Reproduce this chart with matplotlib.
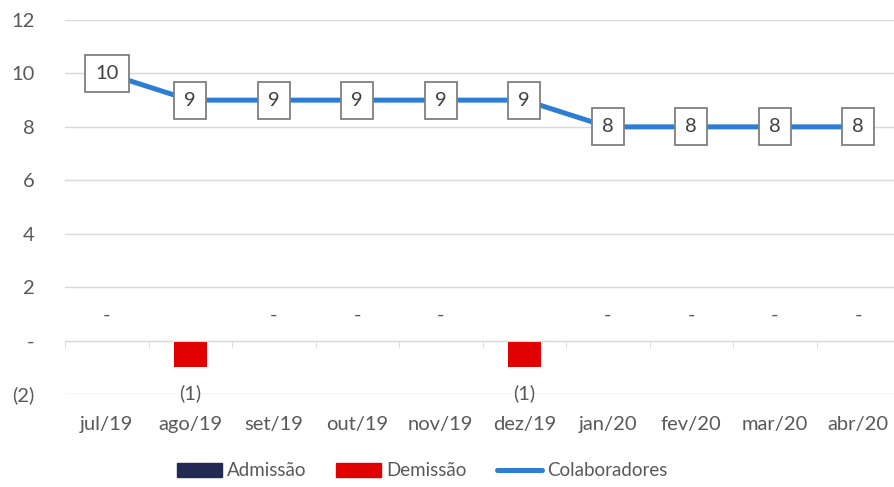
import matplotlib
matplotlib.use("Agg")
from matplotlib import pyplot as plt
from matplotlib.patches import Patch
from matplotlib.lines import Line2D
import numpy as np

# data
meses = ["jul/19", "ago/19", "set/19", "out/19", "nov/19", "dez/19",
         "jan/20", "fev/20", "mar/20", "abr/20"]
admissao = [0, 0, 0, 0, 0, 0, 0, 0, 0, 0]
demissao = [0, -1, 0, 0, 0, -1, 0, 0, 0, 0]
colaboradores = [10, 9, 9, 9, 9, 9, 8, 8, 8, 8]

c_adm = "#222A54"
c_dem = "#E00000"
c_col = "#2E7DD4"
c_txt = "#595959"
fs = 14.5

plt.rcParams['font.family'] = ['Lato', 'DejaVu Sans']

fig = plt.figure(figsize=(8.95, 4.87), dpi=100)
ax = fig.add_axes([65 / 895, 1 - 394 / 487, 835 / 895, 374 / 487])

x = np.arange(len(meses))
ax.bar(x, admissao, width=0.4, color=c_adm, zorder=2)
ax.bar(x, demissao, width=0.4, color=c_dem, zorder=2)
ax.plot(x, colaboradores, color=c_col, lw=3.6, zorder=3, solid_capstyle='round')

# labels for the line
for xi, v in zip(x, colaboradores):
    ax.text(xi, v, str(v), ha='center', va='center', fontsize=fs, color='#404040',
            zorder=4,
            bbox=dict(boxstyle='square,pad=0.5', fc='white', ec='#7F7F7F', lw=1.3))

# labels for Demissão
for xi, v in zip(x, demissao):
    if v == 0:
        ax.annotate("-", (xi, v), xytext=(0, 18), textcoords='offset points',
                    ha='center', va='center', fontsize=fs, color=c_txt)
    else:
        ax.annotate("(%d)" % abs(v), (xi, v), xytext=(0, -19), textcoords='offset points',
                    ha='center', va='center', fontsize=fs, color=c_txt)

ax.set_xlim(-0.5, len(meses) - 0.5)
ax.set_ylim(-2, 12)


def fmt(v, pos):
    if v == 0:
        return "-"
    if v < 0:
        return "(%d)" % abs(v)
    return "%d" % v


ax.set_yticks(np.arange(-2, 13, 2))
ax.yaxis.set_major_formatter(matplotlib.ticker.FuncFormatter(fmt))
ax.grid(axis='y', color='#D9D9D9', lw=1, zorder=0)
ax.tick_params(axis='y', length=0, labelsize=fs, labelcolor=c_txt, pad=22)
for s in ['top', 'right', 'left']:
    ax.spines[s].set_visible(False)

# zero axis line with category separators
ax.spines['bottom'].set_position(('data', 0))
ax.spines['bottom'].set_color('#D9D9D9')
ax.set_xticks(x)
ax.set_xticks(np.arange(-0.5, len(meses), 1), minor=True)
ax.tick_params(axis='x', which='major', length=0, labelbottom=False)
ax.tick_params(axis='x', which='minor', length=5, color='#D9D9D9', direction='out')

sec = ax.secondary_xaxis('bottom')
sec.set_xticks(x)
sec.set_xticklabels(meses)
sec.tick_params(length=0, labelsize=fs, labelcolor=c_txt, pad=16)
sec.spines['bottom'].set_visible(False)

handles = [Patch(color=c_adm), Patch(color=c_dem),
           Line2D([], [], color=c_col, lw=3.6, solid_capstyle='round')]
fig.legend(handles, ["Admissão", "Demissão", "Colaboradores"], loc='center',
           bbox_to_anchor=(422 / 895, 1 - 471 / 487), ncol=3, frameon=False,
           fontsize=13.5, labelcolor=c_txt, handlelength=2.4, handleheight=0.7,
           handletextpad=0.27, columnspacing=1.6)

fig.savefig("out.png", dpi=100)
